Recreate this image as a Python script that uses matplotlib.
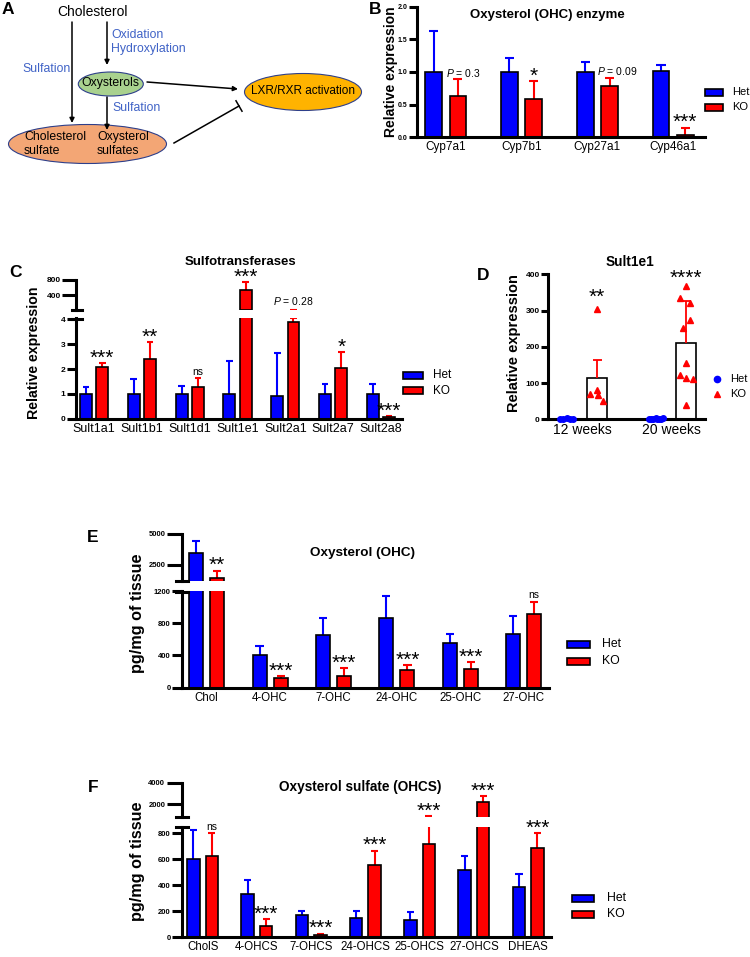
import numpy as np
import matplotlib
matplotlib.use("Agg")
import matplotlib.pyplot as plt
from matplotlib.patches import Ellipse, Rectangle
from matplotlib.lines import Line2D

plt.rcParams["font.family"] = ["Liberation Sans", "DejaVu Sans"]
plt.rcParams["mathtext.fontset"] = "custom"
plt.rcParams["mathtext.it"] = "Liberation Sans:italic"
plt.rcParams["mathtext.rm"] = "Liberation Sans"

# ---------------- data ----------------
# B: oxysterol enzymes
cyp_genes = ["Cyp7a1", "Cyp7b1", "Cyp27a1", "Cyp46a1"]
cyp_het = [1.0, 1.0, 1.0, 1.01]
cyp_het_sem = [0.63, 0.22, 0.16, 0.10]
cyp_ko = [0.64, 0.59, 0.79, 0.04]
cyp_ko_sem = [0.25, 0.27, 0.12, 0.11]
cyp_marks = ["$P$ = 0.3", "*", "$P$ = 0.09", "***"]

# C: sulfotransferases
sult_genes = ["Sult1a1", "Sult1b1", "Sult1d1", "Sult1e1", "Sult2a1", "Sult2a7", "Sult2a8"]
sult_het = [1.0, 1.0, 1.0, 1.0, 0.9, 1.0, 1.0]
sult_het_sem = [0.28, 0.59, 0.33, 1.33, 1.73, 0.40, 0.38]
sult_ko = [2.08, 2.40, 1.29, 545, 3.90, 2.05, 0.05]
sult_ko_sem = [0.17, 0.70, 0.33, 205, 0.16, 0.63, 0.06]
sult_marks = ["***", "**", "ns", "***", "$P$ = 0.28", "*", "***"]

# D: Sult1e1 individual values
weeks = ["12 weeks", "20 weeks"]
d_het_pts = [[1.2, 0.8, 2.5, 1.0, 0.5],
             [0.5, 2.0, 1.0, 4.0, 1.5, 0.8, 2.5, 0.6]]
d_ko_pts = [[305, 70, 82, 66, 50],
            [368, 336, 320, 273, 253, 155, 121, 114, 112, 40]]
d_het_err = [0.8, 1.2]
d_ko_err = [48, 116]
d_marks = ["**", "****"]
# horizontal scatter of the dots inside each bar
d_het_jit = [[-0.08, -0.04, 0.0, 0.04, 0.075],
             [-0.08, -0.055, -0.03, 0.0, 0.03, 0.055, 0.08, 0.01]]
d_ko_jit = [[0.0, -0.075, 0.0, 0.01, 0.07],
            [0.0, -0.075, 0.037, 0.037, -0.037, 0.0, -0.075, 0.0, 0.075, 0.0]]

# E: oxysterols
ohc = ["Chol", "4-OHC", "7-OHC", "24-OHC", "25-OHC", "27-OHC"]
ohc_het = [3480, 407, 658, 870, 558, 670]
ohc_het_sem = [960, 114, 202, 262, 111, 218]
ohc_ko = [1420, 119, 148, 221, 233, 909]
ohc_ko_sem = [620, 30, 96, 59, 90, 156]
ohc_marks = ["**", "***", "***", "***", "***", "ns"]

# F: oxysterol sulfates
ohcs = ["CholS", "4-OHCS", "7-OHCS", "24-OHCS", "25-OHCS", "27-OHCS", "DHEAS"]
ohcs_het = [600, 337, 170, 147, 136, 517, 388]
ohcs_het_sem = [230, 104, 35, 58, 56, 113, 102]
ohcs_ko = [628, 90, 18, 555, 720, 2210, 690]
ohcs_ko_sem = [172, 50, 11, 113, 180, 560, 114]
ohcs_marks = ["ns", "***", "***", "***", "***", "***", "***"]

BLUE = "#0000ff"
RED = "#ff0000"
W, H = 750, 957

fig = plt.figure(figsize=(7.5, 9.57), dpi=100)


def px_axes(l, t, r, b):
    return fig.add_axes([l / W, 1 - b / H, (r - l) / W, (b - t) / H])


def ftext(x, y, s, **kw):
    fig.text(x / W, 1 - y / H, s, **kw)


def hline_px(x0, x1, y, lw=2.2):
    fig.add_artist(Line2D([x0 / W, x1 / W], [1 - y / H, 1 - y / H],
                          color="black", lw=lw, transform=fig.transFigure))


def style(ax, yticks, ylabels, ysize, ticklen, xlabels=None, xsize=8.5, bottom=True):
    ax.spines["top"].set_visible(False)
    ax.spines["right"].set_visible(False)
    ax.spines["left"].set_linewidth(2.2)
    if bottom:
        ax.spines["bottom"].set_linewidth(2.2)
    else:
        ax.spines["bottom"].set_visible(False)
    ax.set_yticks(yticks)
    ax.set_yticklabels(ylabels, fontweight="bold", fontsize=ysize)
    ax.tick_params(axis="y", length=ticklen, width=2.2, pad=1)
    if xlabels is not None:
        ax.set_xticks(np.arange(len(xlabels)))
        ax.set_xticklabels(xlabels, fontsize=xsize)
        ax.tick_params(axis="x", length=0, pad=3)
    else:
        ax.set_xticks([])
    ax.set_facecolor("none")


def grouped(ax, het, het_sem, ko, ko_sem, width, off, cap, floor=None):
    # floor: on the upper part of a broken axis only what rises above it is drawn
    x = np.arange(len(het))
    for xs, m, e, c in [(x - off, het, het_sem, BLUE), (x + off, ko, ko_sem, RED)]:
        m = np.asarray(m, float)
        top = m + np.asarray(e, float)
        keep_bar = np.ones(len(m), bool) if floor is None else m > floor
        keep_err = np.ones(len(m), bool) if floor is None else top > floor
        ax.vlines(xs[keep_err], m[keep_err], top[keep_err], color=c, lw=1.5, zorder=1)
        ax.hlines(top[keep_err], xs[keep_err] - cap, xs[keep_err] + cap, color=c, lw=1.5, zorder=1)
        if keep_bar.any():
            ax.bar(xs[keep_bar], m[keep_bar], width, color=c, edgecolor="black",
                   linewidth=1.2, zorder=2)


def mark(ax, x, y, s, dx=0, ha="center"):
    if "*" in s:
        ax.annotate(s, (x, y), xytext=(dx, -0.5), textcoords="offset points",
                    ha=ha, va="baseline", fontsize=15, annotation_clip=False)
    else:
        ax.annotate(s, (x, y), xytext=(dx, 2.5), textcoords="offset points",
                    ha=ha, va="baseline", fontsize=7.5, annotation_clip=False)


def bar_legend(x0, x1, y_het, y_ko, xt, size=8.5):
    for y, c, lab in [(y_het, BLUE, "Het"), (y_ko, RED, "KO")]:
        fig.add_artist(Rectangle((x0 / W, 1 - (y + 3.5) / H), (x1 - x0) / W, 7 / H,
                                 facecolor=c, edgecolor="black", lw=1.2,
                                 transform=fig.transFigure))
        ftext(xt, y, lab, va="center", ha="left", fontsize=size)


# ---------------- A: scheme ----------------
axA = fig.add_axes([0, 1 - 170 / H, 370 / W, 170 / H])
axA.set_xlim(0, 370)
axA.set_ylim(170, 0)
axA.axis("off")
edge = "#2e3f8a"
txt_blue = "#3f62c6"
axA.add_patch(Ellipse((110.8, 84), 65, 24, fc="#a9d18e", ec=edge, lw=0.8))
axA.add_patch(Ellipse((87.5, 144), 158, 39, fc="#f3a675", ec=edge, lw=0.8))
axA.add_patch(Ellipse((303, 92), 117, 37, fc="#ffb300", ec=edge, lw=0.8))
arr = dict(arrowstyle="-|>", color="black", lw=1.1, mutation_scale=7, shrinkA=0, shrinkB=0)
axA.annotate("", xy=(72, 123), xytext=(72, 22), arrowprops=arr)
axA.annotate("", xy=(107, 65), xytext=(107, 22), arrowprops=arr)
axA.annotate("", xy=(107, 130), xytext=(107, 97), arrowprops=arr)
axA.annotate("", xy=(238, 89), xytext=(147, 82), arrowprops=arr)
axA.plot([174, 239], [143, 106], color="black", lw=1.1)
axA.plot([236, 242], [100.8, 111.2], color="black", lw=1.1)
axA.text(92.5, 12, "Cholesterol", ha="center", va="center", fontsize=10)
axA.text(111, 35, "Oxidation", ha="left", va="center", fontsize=8.8, color=txt_blue)
axA.text(111, 49, "Hydroxylation", ha="left", va="center", fontsize=8.8, color=txt_blue)
axA.text(22, 69, "Sulfation", ha="left", va="center", fontsize=8.8, color=txt_blue)
axA.text(112, 108, "Sulfation", ha="left", va="center", fontsize=8.8, color=txt_blue)
axA.text(110.5, 83, "Oxysterols", ha="center", va="center", fontsize=8.8)
axA.text(24, 144, "Cholesterol\nsulfate", ha="left", va="center", fontsize=8.8, linespacing=1.25)
axA.text(97, 144, "Oxysterol\nsulfates", ha="left", va="center", fontsize=8.8, linespacing=1.25)
axA.text(303, 91, "LXR/RXR activation", ha="center", va="center", fontsize=8.5)

# ---------------- B ----------------
axB = px_axes(417, 6.7, 705, 137.3)
grouped(axB, cyp_het, cyp_het_sem, cyp_ko, cyp_ko_sem, 0.22, 0.16, 0.06)
axB.set_xlim(-0.38, 3.42)
axB.set_ylim(0, 2)
style(axB, [0, 0.5, 1.0, 1.5, 2.0], ["0.0", "0.5", "1.0", "1.5", "2.0"], 5, 6,
      cyp_genes, 8.5)
for i, s in enumerate(cyp_marks):
    top = cyp_ko[i] + cyp_ko_sem[i]
    if s.startswith("$P"):
        axB.annotate(s, (i, top), xytext=(0, 1.8), textcoords="offset points",
                     ha="left", va="baseline", fontsize=7.5, annotation_clip=False)
    else:
        mark(axB, i + 0.16, top, s)
ftext(547, 15, "Oxysterol (OHC) enzyme", ha="center", va="center", fontsize=9.5, fontweight="bold")
ftext(391, 72, "Relative expression", rotation=90, ha="center", va="center",
      fontsize=10, fontweight="bold")
bar_legend(705, 723, 92, 107, 732, 8)

# ---------------- C (broken axis) ----------------
axC = px_axes(76, 318.1, 402, 418.7)
axCt = px_axes(76, 280, 402, 310)
grouped(axC, sult_het, sult_het_sem, sult_ko, sult_ko_sem, 0.25, 0.17, 0.07)
grouped(axCt, sult_het, sult_het_sem, sult_ko, sult_ko_sem, 0.25, 0.17, 0.07, floor=4)
for ax in (axC, axCt):
    ax.set_xlim(-0.38, 6.44)
axC.set_ylim(0, 4.05)
axCt.set_ylim(4, 800)
style(axC, [0, 1, 2, 3, 4], ["0", "1", "2", "3", "4"], 6, 6.5, sult_genes, 9)
style(axCt, [400, 800], ["400", "800"], 6, 10, None, bottom=False)
for i, s in enumerate(sult_marks):
    top = sult_ko[i] + sult_ko_sem[i]
    ax = axCt if top > 4.0 else axC
    if s.startswith("$P"):
        ax.annotate(s, (i + 0.17, top), xytext=(0, 3.6), textcoords="offset points",
                    ha="center", va="baseline", fontsize=7.5, annotation_clip=False)
    else:
        mark(ax, i + 0.17, top, s)
hline_px(72, 82, 310)
hline_px(72, 82, 319)
ftext(240, 262, "Sulfotransferases", ha="center", va="center", fontsize=9.5, fontweight="bold")
ftext(34, 353, "Relative expression", rotation=90, ha="center", va="center",
      fontsize=10.2, fontweight="bold")
bar_legend(403, 423, 375.5, 390.5, 433, 8.5)

# ---------------- D ----------------
axD = px_axes(548, 274.3, 705, 419.3)
xd = np.arange(len(weeks))
het_mean = [np.mean(p) for p in d_het_pts]
ko_mean = [np.mean(p) for p in d_ko_pts]
for xs, m, e, c in [(xd - 0.17, het_mean, d_het_err, BLUE), (xd + 0.17, ko_mean, d_ko_err, RED)]:
    m = np.asarray(m)
    top = m + np.asarray(e)
    axD.bar(xs, m, 0.225, color="white", edgecolor="black", linewidth=1.2, zorder=1)
    axD.vlines(xs, m, top, color=c, lw=1.3, zorder=2)
    axD.hlines(top, xs - 0.05, xs + 0.05, color=c, lw=1.3, zorder=2)
for i in range(len(weeks)):
    axD.plot(xd[i] - 0.17 + np.array(d_het_jit[i]), d_het_pts[i], "o", color=BLUE,
             ms=4, mec=BLUE, zorder=3, clip_on=False)
    axD.plot(xd[i] + 0.17 + np.array(d_ko_jit[i]), d_ko_pts[i], "^", color=RED,
             ms=4.5, mec=RED, zorder=3, clip_on=False)
axD.set_xlim(-0.38, 1.38)
axD.set_ylim(0, 400)
style(axD, [0, 100, 200, 300, 400], ["0", "100", "200", "300", "400"], 6, 5, weeks, 10)
for i, s in enumerate(d_marks):
    y = max(d_ko_pts[i])
    axD.annotate(s, (xd[i] + 0.17, y), xytext=(0, 4.5 if i == 0 else 1.5),
                 textcoords="offset points", ha="center", va="baseline",
                 fontsize=15, annotation_clip=False)
ftext(630, 262, "Sult1e1", ha="center", va="center", fontsize=9.8, fontweight="bold")
ftext(514, 343, "Relative expression", rotation=90, ha="center", va="center",
      fontsize=10.5, fontweight="bold")
fig.add_artist(Line2D([717 / W], [1 - 379 / H], marker="o", color=BLUE, ms=4.5,
                      transform=fig.transFigure))
fig.add_artist(Line2D([717 / W], [1 - 394 / H], marker="^", color=RED, ms=5,
                      transform=fig.transFigure))
ftext(730, 379, "Het", va="center", fontsize=8)
ftext(730, 394, "KO", va="center", fontsize=8)

# ---------------- E (broken axis) ----------------
axE = px_axes(182, 591, 549, 687.7)
axEt = px_axes(182, 534, 549, 581)
grouped(axE, ohc_het, ohc_het_sem, ohc_ko, ohc_ko_sem, 0.22, 0.166, 0.065)
grouped(axEt, ohc_het, ohc_het_sem, ohc_ko, ohc_ko_sem, 0.22, 0.166, 0.065, floor=1200)
for ax in (axE, axEt):
    ax.set_xlim(-0.39, 5.40)
axE.set_ylim(0, 1200)
axEt.set_ylim(1200, 5000)
style(axE, [0, 400, 800, 1200], ["0", "400", "800", "1200"], 5.5, 7, ohc, 8.3)
style(axEt, [2500, 5000], ["2500", "5000"], 5.5, 11, None, bottom=False)
for i, s in enumerate(ohc_marks):
    top = ohc_ko[i] + ohc_ko_sem[i]
    mark(axEt if top > 1200 else axE, i + 0.166, top, s)
hline_px(176, 188, 581)
hline_px(176, 188, 591.5)
ftext(363, 553, "Oxysterol (OHC)", ha="center", va="center", fontsize=9.7, fontweight="bold")
ftext(137.5, 613, "pg/mg of tissue", rotation=90, ha="center", va="center",
      fontsize=11.7, fontweight="bold")
bar_legend(567, 590, 644, 661, 602, 8.8)

# ---------------- F (broken axis) ----------------
axF = px_axes(182, 827, 551, 937.3)
axFt = px_axes(182, 782.7, 551, 816.7)
grouped(axF, ohcs_het, ohcs_het_sem, ohcs_ko, ohcs_ko_sem, 0.23, 0.17, 0.065)
grouped(axFt, ohcs_het, ohcs_het_sem, ohcs_ko, ohcs_ko_sem, 0.23, 0.17, 0.065, floor=850)
for ax in (axF, axFt):
    ax.set_xlim(-0.38, 6.42)
axF.set_ylim(0, 850)
axFt.set_ylim(850, 4000)
style(axF, [0, 200, 400, 600, 800], ["0", "200", "400", "600", "800"], 5.5, 7, ohcs, 8.3)
style(axFt, [2000, 4000], ["2000", "4000"], 5.5, 11, None, bottom=False)
for i, s in enumerate(ohcs_marks):
    top = ohcs_ko[i] + ohcs_ko_sem[i]
    mark(axFt if top > 850 else axF, i + 0.17, top, s)
hline_px(176, 188, 816.7)
hline_px(176, 188, 827.3)
ftext(360, 787.5, "Oxysterol sulfate (OHCS)", ha="center", va="center", fontsize=9.8,
      fontweight="bold")
ftext(137.5, 861, "pg/mg of tissue", rotation=90, ha="center", va="center",
      fontsize=11.7, fontweight="bold")
bar_legend(572, 594, 898, 914, 607, 8.8)

# ---------------- panel letters ----------------
for x, y, s in [(8, 10, "A"), (375, 10, "B"), (15, 272, "C"), (483, 276, "D"),
                (93, 537, "E"), (93, 788, "F")]:
    ftext(x, y, s, ha="center", va="center", fontsize=12.5, fontweight="bold")

fig.savefig("out.png", dpi=100)
